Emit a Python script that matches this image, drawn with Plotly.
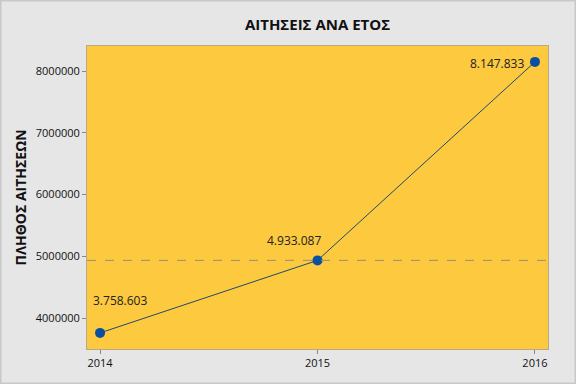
import plotly.graph_objects as go

years = [2014, 2015, 2016]
values = [3758603, 4933087, 8147833]
labels = ["3.758.603", "4.933.087", "8.147.833"]
ref_value = 4933087
y_ticks = [4000000, 5000000, 6000000, 7000000, 8000000]

FONT = "Open Sans"

fig = go.Figure()
fig.add_trace(go.Scatter(
    x=years, y=values, mode="lines+markers",
    line=dict(color="#1F4A6B", width=1),
    marker=dict(color="#0B4FA0", size=10),
    showlegend=False, hoverinfo="skip",
))

fig.add_hline(y=ref_value, line=dict(color="#9A8F78", width=1, dash="dash"))

shifts = [(20, 32), (-24, 20), (-38, -2)]
for x, y, t, (dx, dy) in zip(years, values, labels, shifts):
    fig.add_annotation(x=x, y=y, text=t, showarrow=False, xshift=dx, yshift=dy,
                       font=dict(family=FONT, size=12, color="#222222"))

L, R, T, B = 87, 28, 46, 35
W, H = 576, 384
pw, ph = W - L - R, H - T - B
fig.add_shape(type="rect", xref="paper", yref="paper",
              x0=-L / pw + 0.001, x1=1 + R / pw - 0.001,
              y0=-B / ph + 0.002, y1=1 + T / ph - 0.002,
              line=dict(color="#C8C8C8", width=2), layer="below")

fig.update_layout(
    width=W, height=H,
    margin=dict(l=L, r=R, t=T, b=B, autoexpand=False),
    paper_bgcolor="#E6E6E6",
    plot_bgcolor="#FCC93F",
    title=dict(text="<b>ΑΙΤΗΣΕΙΣ ΑΝΑ ΕΤΟΣ</b>", x=(L + pw / 2) / W, xanchor="center",
               y=1 - 25 / H, yanchor="middle",
               font=dict(family=FONT, size=15, color="#111111")),
    font=dict(family=FONT, size=11, color="#111111"),
)
fig.update_xaxes(
    range=[2013.94, 2016.06], tickvals=years, ticktext=[str(y) for y in years],
    showgrid=False, zeroline=False, ticks="outside", ticklen=4, tickcolor="#888888",
    showline=True, linecolor="#B8A98A", mirror=True, tickfont=dict(size=11),
    automargin=False,
)
fig.update_yaxes(
    range=[3498000, 8405000], tickvals=y_ticks, ticktext=[str(v) for v in y_ticks],
    showgrid=False, zeroline=False, ticks="outside", ticklen=4, tickcolor="#888888",
    showline=True, linecolor="#B8A98A", mirror=True, tickfont=dict(size=11),
    title=dict(text="<b>ΠΛΗΘΟΣ ΑΙΤΗΣΕΩΝ</b>", font=dict(size=14), standoff=5),
    automargin=False,
)

fig.write_html("out.html", config={"displayModeBar": False},
               post_script="document.body.style.margin='0';")
